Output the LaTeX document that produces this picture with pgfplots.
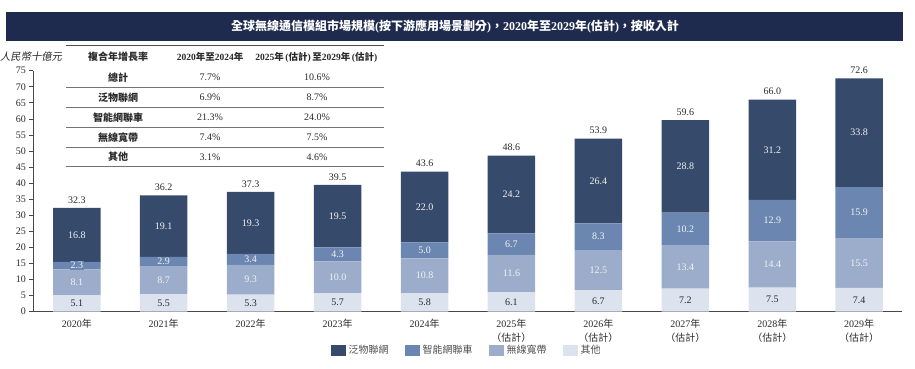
\documentclass[border=0pt]{standalone}
\usepackage{fontspec}
\setmainfont{Liberation Serif}
\newfontfamily\cjk{Noto Sans CJK TC}
\newfontfamily\cjkit{Noto Sans CJK TC}[FakeSlant=0.2]
\newcommand\C[1]{{\cjk #1}}
\newcommand\Est{\,(\C{估計})\,}
\usepackage{pgfplots}
\usepackage{pgfplotstable}
\pgfplotsset{compat=1.18}
\definecolor{cA}{HTML}{364A6B}
\definecolor{cB}{HTML}{6B86B0}
\definecolor{cC}{HTML}{9CACCB}
\definecolor{cD}{HTML}{DCE2EE}
\definecolor{band}{HTML}{1F2B4E}
\definecolor{txt}{HTML}{2A2A2A}

\pgfplotstableread{
x other wireless car iot
0 5.1 8.1 2.3 16.8
1 5.5 8.7 2.9 19.1
2 5.3 9.3 3.4 19.3
3 5.7 10.0 4.3 19.5
4 5.8 10.8 5.0 22.0
5 6.1 11.6 6.7 24.2
6 6.7 12.5 8.3 26.4
7 7.2 13.4 10.2 28.8
8 7.5 14.4 12.9 31.2
9 7.4 15.5 15.9 33.8
}\bars

% label positions (segment mid-heights) and texts
\pgfplotstableread{
x y l
0 23.9 16.8
1 26.65 19.1
2 27.65 19.3
3 29.75 19.5
4 32.6 22.0
5 36.5 24.2
6 40.7 26.4
7 45.2 28.8
8 50.4 31.2
9 55.7 33.8
}\labA
\pgfplotstableread{
x y l
0 14.35 2.3
1 15.65 2.9
2 16.3 3.4
3 17.85 4.3
4 19.1 5.0
5 21.05 6.7
6 23.35 8.3
7 25.7 10.2
8 28.35 12.9
9 30.85 15.9
}\labB
\pgfplotstableread{
x y l
0 9.15 8.1
1 9.85 8.7
2 9.95 9.3
3 10.7 10.0
4 11.2 10.8
5 11.9 11.6
6 12.95 12.5
7 13.9 13.4
8 14.7 14.4
9 15.15 15.5
}\labC
\pgfplotstableread{
x y l
0 2.55 5.1
1 2.75 5.5
2 2.65 5.3
3 2.85 5.7
4 2.9 5.8
5 3.05 6.1
6 3.35 6.7
7 3.6 7.2
8 3.75 7.5
9 3.7 7.4
}\labD
\pgfplotstableread{
x y l
0 32.3 32.3
1 36.2 36.2
2 37.3 37.3
3 39.5 39.5
4 43.6 43.6
5 48.6 48.6
6 53.9 53.9
7 59.6 59.6
8 66.0 66.0
9 72.6 72.6
}\labT

\begin{document}
\begin{tikzpicture}
\useasboundingbox (0pt,0pt) rectangle (915pt,-368pt);
% title band
\fill[band] (6pt,-12pt) rectangle (903pt,-41pt);
\node[text=white, font=\fontsize{12}{14}\selectfont\bfseries] at (455pt,-26.5pt)
 {\C{全球無線通信模組市場規模}(\C{按下游應用場景劃分})\C{，}2020\C{年至}2029\C{年}(\C{估計})\C{，按收入計}};

\begin{axis}[
  at={(33.3pt,-311.7pt)}, anchor=south west,
  scale only axis, width=868.5pt, height=241pt,
  xmin=-0.5, xmax=9.49, ymin=0, ymax=75,
  ybar stacked, bar width=47.5pt,
  axis x line*=bottom, axis y line*=left,
  axis line style={draw=black!72, line width=0.8pt, -},
  xtick={0,...,9},
  xticklabels={2020\C{年},2021\C{年},2022\C{年},2023\C{年},2024\C{年},
    {2025\C{年}\\\C{（估計）}},{2026\C{年}\\\C{（估計）}},{2027\C{年}\\\C{（估計）}},
    {2028\C{年}\\\C{（估計）}},{2029\C{年}\\\C{（估計）}}},
  x tick label style={align=center, font=\fontsize{10}{13.5}\selectfont, text=txt},
  xtick style={draw=none},
  ytick={0,5,...,75},
  y tick label style={font=\fontsize{10}{12}\selectfont, text=txt},
  ytick style={draw=black!72, line width=0.8pt},
  tick align=outside, major tick length=4pt,
  /pgf/number format/assume math mode=true,
  reverse legend,
  legend columns=4,
  legend style={draw=none, fill=none, inner sep=0pt, outer sep=0pt,
    at={(rel axis cs:0.343,-0.159)}, anchor=west,
    font=\fontsize{10}{12}\selectfont, text=black!70,
    nodes={inner sep=2.5pt},
    /tikz/every even column/.append style={column sep=14pt}},
  legend image code/.code={\fill[#1] (0pt,-5.5pt) rectangle (15pt,5.5pt);},
]
\addplot[fill=cD, draw=none] table[x=x, y=other] {\bars};
\addplot[fill=cC, draw=none] table[x=x, y=wireless] {\bars};
\addplot[fill=cB, draw=none] table[x=x, y=car] {\bars};
\addplot[fill=cA, draw=none] table[x=x, y=iot] {\bars};
\legend{\C{其他},\C{無線寬帶},\C{智能網聯車},\C{泛物聯網}}
\end{axis}

\begin{axis}[
  at={(33.3pt,-311.7pt)}, anchor=south west,
  scale only axis, width=868.5pt, height=241pt,
  xmin=-0.5, xmax=9.49, ymin=0, ymax=75,
  hide axis, clip=false,
  nodes near coords, point meta=explicit symbolic,
]
\addplot[draw=none, mark=none, nodes near coords style={anchor=center, text=white!95!black, font=\fontsize{10}{12}\selectfont}] table[x=x, y=y, meta=l] {\labA};
\addplot[draw=none, mark=none, nodes near coords style={anchor=center, text=white!95!black, fill=cB, inner sep=1pt, font=\fontsize{10}{12}\selectfont}] table[x=x, y=y, meta=l] {\labB};
\addplot[draw=none, mark=none, nodes near coords style={anchor=center, text=white!95!black, font=\fontsize{10}{12}\selectfont}] table[x=x, y=y, meta=l] {\labC};
\addplot[draw=none, mark=none, nodes near coords style={anchor=center, text=txt, font=\fontsize{10}{12}\selectfont}] table[x=x, y=y, meta=l] {\labD};
\addplot[draw=none, mark=none, nodes near coords style={anchor=south, yshift=1pt, text=txt, font=\fontsize{10}{12}\selectfont}] table[x=x, y=y, meta=l] {\labT};
\end{axis}

% y unit label
\node[anchor=west, inner sep=0pt, text=txt, font=\fontsize{10.3}{12}\selectfont] at (0pt,-57pt) {\cjkit 人民幣十億元};

% CAGR table
\draw[black!70, line width=1pt] (66pt,-45pt) -- (384pt,-45pt);
\foreach \yy in {87,107,127,147,166}
  \draw[black!55, line width=0.8pt] (66pt,-\yy pt) -- (384pt,-\yy pt);
\begin{scope}[every node/.style={text=txt, inner sep=0pt, font=\fontsize{10}{12}\selectfont}]
\node at (118pt,-57pt) {\bfseries\C{複合年增長率}};
\node[font=\fontsize{9.5}{12}\selectfont] at (210pt,-57pt) {\bfseries 2020\C{年至}2024\C{年}};
\node[font=\fontsize{9.5}{12}\selectfont] at (317pt,-57pt) {\bfseries 2025\C{年}\Est\C{至}2029\C{年}\Est};
\node at (118pt,-77.5pt) {\bfseries\C{總計}};
\node at (210pt,-77.5pt) {7.7\%};
\node at (317pt,-77.5pt) {10.6\%};
\node at (118pt,-97.5pt) {\bfseries\C{泛物聯網}};
\node at (210pt,-97.5pt) {6.9\%};
\node at (317pt,-97.5pt) {8.7\%};
\node at (118pt,-117.5pt) {\bfseries\C{智能網聯車}};
\node at (210pt,-117.5pt) {21.3\%};
\node at (317pt,-117.5pt) {24.0\%};
\node at (118pt,-137.5pt) {\bfseries\C{無線寬帶}};
\node at (210pt,-137.5pt) {7.4\%};
\node at (317pt,-137.5pt) {7.5\%};
\node at (118pt,-157pt) {\bfseries\C{其他}};
\node at (210pt,-157pt) {3.1\%};
\node at (317pt,-157pt) {4.6\%};
\end{scope}
\end{tikzpicture}
\end{document}
